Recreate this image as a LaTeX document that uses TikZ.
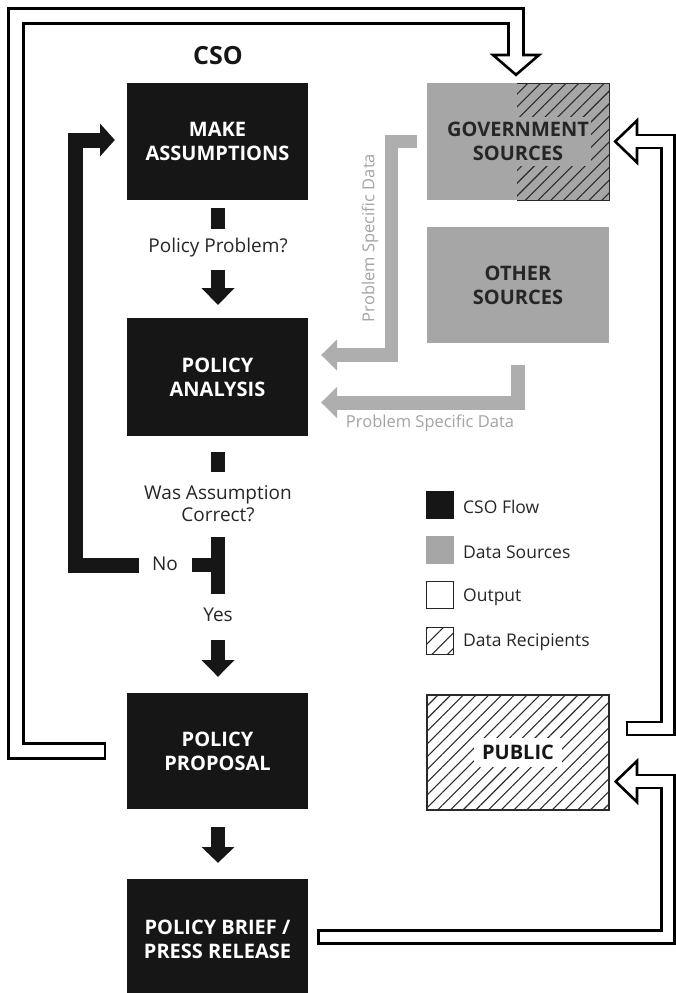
\documentclass[tikz,border=0pt]{standalone}
\usepackage{fontspec}
\setmainfont{Open Sans}
\usetikzlibrary{calc,patterns.meta}
\definecolor{boxblack}{HTML}{161616}
\definecolor{srcgray}{HTML}{A6A6A6}
\definecolor{arrgray}{HTML}{AEAEAE}
\definecolor{txtgray}{HTML}{A3A3A3}
\definecolor{darktxt}{HTML}{262626}
\definecolor{hatchc}{HTML}{2A2A2A}
\begin{document}
\begin{tikzpicture}[x=1pt,y=-1pt,
  csobox/.style={fill=boxblack, text=white, font=\fontsize{20}{24}\selectfont\bfseries, align=center, inner sep=0pt, minimum width=181pt},
  srcbox/.style={fill=srcgray, inner sep=0pt, minimum width=182pt},
  srctext/.style={text=darktxt, font=\fontsize{20}{24}\selectfont\bfseries, align=center},
  lbl/.style={font=\fontsize{19}{22}\selectfont, text=darktxt, align=center, inner sep=0pt},
  glbl/.style={font=\fontsize{16.5}{20}\selectfont, text=txtgray, inner sep=0pt},
  leglbl/.style={font=\fontsize{17.5}{20}\selectfont, text=darktxt, anchor=west, inner sep=0pt},
  legsq/.style={minimum width=28pt, minimum height=28pt, inner sep=0pt},
  blkbar/.style={draw=boxblack, line width=14pt, line cap=butt, line join=miter},
  graybar/.style={draw=arrgray, line width=14pt, line cap=butt, line join=miter},
  hatch/.style={pattern={Lines[angle=45,distance=9pt,line width=1.1pt]}, pattern color=hatchc},
  hollowblack/.style={draw=black, line width=#1, line cap=butt, line join=miter},
  hollowwhite/.style={draw=white, line width=#1, line cap=butt, line join=miter},
  hollowhead/.style={draw=black, fill=white, line width=2.6pt, line join=miter}
]
\useasboundingbox (0,0) rectangle (675,993);

% ---------- CSO column ----------
\node[font=\fontsize{25}{28}\selectfont\bfseries, text=boxblack, inner sep=0pt] (cso) at (218,56) {CSO};
\node[csobox, minimum height=117pt] (ma) at (217.5,141.5) {MAKE\\ASSUMPTIONS};
\node[csobox, minimum height=118pt] (pa) at (217.5,377) {POLICY\\ANALYSIS};
\node[csobox, minimum height=116pt] (pprop) at (217.5,751) {POLICY\\PROPOSAL};
\node[csobox, minimum height=121pt] (pb) at (217.5,939.5) {POLICY BRIEF /\\PRESS RELEASE};

\node[lbl] (q1) at (218,248) {Policy Problem?};
\node[lbl] (q2) at (218,504) {Was Assumption\\Correct?};
\node[lbl] (no) at (165,564) {No};
\node[lbl] (yes) at (218,615) {Yes};

% stub below MAKE ASSUMPTIONS
\coordinate (s1a) at ($(ma.south)+(0.5,8)$);
\coordinate (s1b) at ($(ma.south)+(0.5,29)$);
\draw[blkbar] (s1a) -- (s1b);
% arrow to POLICY ANALYSIS
\coordinate (a1s) at ($(q1.south)+(0,12)$);
\coordinate (a1b) at (218,288);
\coordinate (a1t) at (218,305);
\draw[blkbar] (a1s) -- (a1b);
\fill[boxblack] ($(a1b)+(-16.5,0)$) -- ($(a1b)+(16.5,0)$) -- (a1t) -- cycle;

% stub below POLICY ANALYSIS
\coordinate (s2a) at ($(pa.south)+(0.5,16)$);
\coordinate (s2b) at ($(pa.south)+(0.5,36)$);
\draw[blkbar] (s2a) -- (s2b);

% T junction
\coordinate (t1) at (218,537);
\coordinate (t2) at (218,594);
\coordinate (tn) at (192,565);
\draw[blkbar] (t1) -- (t2);
\draw[blkbar] (tn) -- (219,565);

% No loop back to MAKE ASSUMPTIONS
\coordinate (L0) at (139,565);
\coordinate (Lb) at (100,140);
\coordinate (Lt) at ($(ma.west)+(-12,-1.5)$);
\draw[blkbar, line width=15pt] (L0) -- (75,565) -- (75,140) -- (Lb);
\fill[boxblack] ($(Lb)+(0,-16.5)$) -- ($(Lb)+(0,16.5)$) -- (Lt) -- cycle;

% Yes arrow to POLICY PROPOSAL
\coordinate (a2s) at (218,640);
\coordinate (a2b) at (218,660);
\coordinate (a2t) at ($(pprop.north)+(0.5,-16)$);
\draw[blkbar] (a2s) -- (a2b);
\fill[boxblack] ($(a2b)+(-16.5,0)$) -- ($(a2b)+(16.5,0)$) -- (a2t) -- cycle;

% arrow to POLICY BRIEF
\coordinate (a3s) at ($(pprop.south)+(0.5,18)$);
\coordinate (a3b) at (218,847);
\coordinate (a3t) at ($(pb.north)+(0.5,-16)$);
\draw[blkbar] (a3s) -- (a3b);
\fill[boxblack] ($(a3b)+(-16.5,0)$) -- ($(a3b)+(16.5,0)$) -- (a3t) -- cycle;

% ---------- sources ----------
\node[srcbox, minimum height=117pt] (gov) at (518,141.5) {};
\fill[hatch] (517,83) rectangle (609,200);
\draw[hatchc, line width=1pt] (517,83) -- (609,83) -- (609,200) -- (517,200);
\node[srctext, fill=srcgray, inner xsep=2pt, inner ysep=5pt] (govt) at (gov.center) {GOVERNMENT\\SOURCES};

\node[srcbox, minimum height=116pt] (oth) at (518,285) {};
\node[srctext] (otht) at (oth.center) {OTHER\\SOURCES};

% gray arrow from GOVERNMENT SOURCES
\coordinate (g1s) at ($(gov.west)+(-10,0)$);
\coordinate (g1b) at (337,355);
\coordinate (g1t) at ($(pa.east)+(13,-22)$);
\draw[graybar, line width=13.5pt] (g1s) -- (391.5,141.5) -- (391.5,355) -- (g1b);
\fill[arrgray] ($(g1b)+(0,-15.5)$) -- ($(g1b)+(0,15.5)$) -- (g1t) -- cycle;
\node[glbl, rotate=90] (g1l) at (370,238) {Problem Specific Data};

% gray arrow from OTHER SOURCES
\coordinate (g2s) at ($(oth.south)+(-0.5,22)$);
\coordinate (g2b) at (337,402.5);
\coordinate (g2t) at ($(pa.east)+(13,25.5)$);
\draw[graybar] (g2s) -- (517.5,402.5) -- (g2b);
\fill[arrgray] ($(g2b)+(0,-15.5)$) -- ($(g2b)+(0,15.5)$) -- (g2t) -- cycle;
\node[glbl] (g2l) at (430,423) {Problem Specific Data};

% ---------- legend ----------
\node[legsq, fill=boxblack] (k1) at (440,505) {};
\node[legsq, fill=srcgray] (k2) at (440,550) {};
\node[legsq, draw=darktxt, line width=1.3pt, fill=white, minimum width=26.7pt, minimum height=26.7pt] (k3) at (440,595) {};
\node[legsq, draw=darktxt, line width=1.3pt, minimum width=26.7pt, minimum height=26.7pt, pattern={Lines[angle=45,distance=11pt,line width=1.1pt]}, pattern color=hatchc] (k4) at (440,641) {};
\node[leglbl] at (463,507) {CSO Flow};
\node[leglbl] at (463,552) {Data Sources};
\node[leglbl] at (463,597) {Output};
\node[leglbl] at (463,642) {Data Recipients};

% ---------- PUBLIC ----------
\node[draw=hatchc, line width=1.3pt, hatch, minimum width=182pt, minimum height=115pt, inner sep=0pt] (pub) at (518,752.5) {};
\node[srctext, text=boxblack, fill=white, inner xsep=8pt, inner ysep=7pt] (pubt) at (pub.center) {PUBLIC};

% ---------- hollow arrows ----------
% POLICY PROPOSAL -> GOVERNMENT SOURCES
\coordinate (hA0) at ($(pprop.west)+(-20.5,0)$);
\coordinate (hA1) at ($(pprop.west)+(-23.1,0)$);
\coordinate (hAb) at (516,55);
\coordinate (hAt) at ($(gov.north)+(-2,-8)$);
\draw[hollowblack=17.2pt] (hA0) -- (16,751) -- (16,16) -- (516,16) -- (hAb);
\draw[hollowwhite=12pt] (hA1) -- (16,751) -- (16,16) -- (516,16) -- (hAb);
\draw[hollowhead] ($(hAb)+(-23,0)$) -- ($(hAb)+(23,0)$) -- (hAt) -- cycle;
\draw[hollowwhite=12pt] ($(hAb)+(0,-2)$) -- ($(hAb)+(0,4)$);

% PUBLIC -> GOVERNMENT SOURCES
\coordinate (hB0) at ($(pub.east)+(16,-24)$);
\coordinate (hB1) at ($(pub.east)+(18.6,-24)$);
\coordinate (hBb) at (637,141.5);
\coordinate (hBt) at ($(gov.east)+(6,0)$);
\draw[hollowblack=15.7pt] (hB0) -- (668,728.5) -- (668,141.5) -- (hBb);
\draw[hollowwhite=10.5pt] (hB1) -- (668,728.5) -- (668,141.5) -- (hBb);
\draw[hollowhead] ($(hBb)+(0,-21)$) -- ($(hBb)+(0,21)$) -- (hBt) -- cycle;
\draw[hollowwhite=10.5pt] ($(hBb)+(2,0)$) -- ($(hBb)+(-4,0)$);

% POLICY BRIEF -> PUBLIC
\coordinate (hC0) at ($(pb.east)+(9,-2.5)$);
\coordinate (hC1) at ($(pb.east)+(11.6,-2.5)$);
\coordinate (hCb) at (637,781.5);
\coordinate (hCt) at ($(pub.east)+(6,29)$);
\draw[hollowblack=15.7pt] (hC0) -- (668,937) -- (668,781.5) -- (hCb);
\draw[hollowwhite=10.5pt] (hC1) -- (668,937) -- (668,781.5) -- (hCb);
\draw[hollowhead] ($(hCb)+(0,-20.5)$) -- ($(hCb)+(0,20.5)$) -- (hCt) -- cycle;
\draw[hollowwhite=10.5pt] ($(hCb)+(2,0)$) -- ($(hCb)+(-4,0)$);
\end{tikzpicture}
\end{document}
